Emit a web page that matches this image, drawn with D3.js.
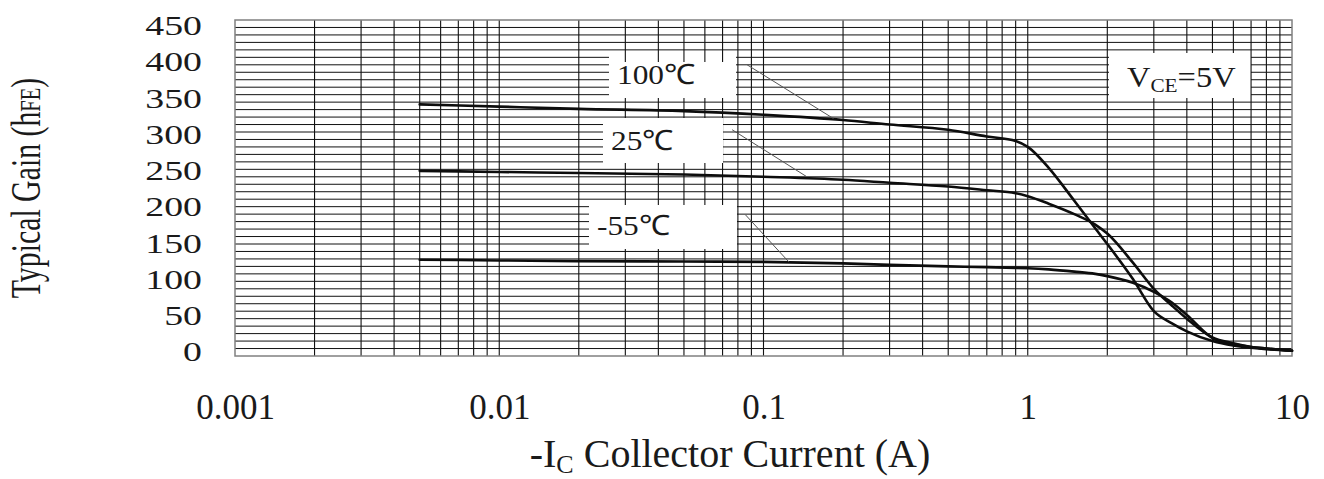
<!DOCTYPE html>
<html><head><meta charset="utf-8">
<script src="https://cdn.jsdelivr.net/npm/d3@7"></script>
<style>
html,body{margin:0;padding:0;background:#fff;}
svg{display:block;}
text{font-family:"Liberation Serif","Times New Roman",serif;fill:#1a1a1a;}
</style></head>
<body>
<svg id="chart" width="1324" height="479"></svg>
<script>
// ---- data ----
const currents = [0.005, 0.01, 0.02, 0.05, 0.1, 0.2, 0.3, 0.5, 0.7, 0.9, 1.0, 1.2, 1.5, 1.8, 2.0, 2.5, 3.0, 3.5, 4.0, 5.0, 6.0, 7.0, 8.0, 10];
const hfe100 = [337, 334, 331, 328, 323, 316, 310, 303, 294, 288, 280, 252, 208, 171, 150, 103, 60, 44, 33, 20, 14, 11, 9, 7];
const hfe25  = [248, 246.5, 245, 243, 240, 236, 232, 227, 222, 218, 214, 204, 190, 176, 164, 125, 90, 68, 50, 25, 17, 12, 10, 7];
const hfeM55 = [129, 128, 127, 126.5, 126, 124, 122, 120, 119, 118, 117.5, 116, 113, 110, 107, 98, 86, 72, 55, 24, 16, 12, 10, 7];
const seriesNames = ["100\u2103", "25\u2103", "-55\u2103"];
const xTicks = [0.001, 0.01, 0.1, 1, 10];
const xTickLabels = ["0.001", "0.01", "0.1", "1", "10"];
const yTicks = [0, 50, 100, 150, 200, 250, 300, 350, 400, 450];
// leader-line endpoints in data units [I, hFE] -> [I, hFE]
const leaderFrom = [[0.0867, 390], [0.0761, 303], [0.0855, 189]];
const leaderTo   = [[0.184, 318], [0.146, 240], [0.1247, 126]];

// ---- layout ----
const svg = d3.select("#chart");
const L = 235, R = 1292, T = 20, B = 356;
const x = d3.scaleLog().domain([0.001, 10]).range([L, R]);
const y = d3.scaleLinear().domain([0, 450]).range([B, T]);
const yLab = d3.scaleLinear().domain([0, 450]).range([352, 25.5]);

// label boxes: h = mask for horizontal grid, v = mask for vertical grid [x0,y0,x1,y1]
const boxes = [
  {h:[609,55,736,98],  v:[609,62,736,98]},
  {h:[603,122,723,164], v:[603,118,723,163]},
  {h:[589,205,737,248], v:[589,205,737,249]},
  {h:[1109,55,1251,97], v:[1109,53,1248,98]}
];
const labelPos = [[617,84],[611,150],[597,235]];

// horizontal grid
const hVals = d3.range(10, 450, 10);
svg.append("g").selectAll("line").data(hVals).join("line")
  .attr("x1", L).attr("x2", R).attr("y1", d => y(d)).attr("y2", d => y(d))
  .attr("stroke", "#111").attr("stroke-width", 1);
svg.append("g").selectAll("rect").data(boxes).join("rect")
  .attr("x", d => d.h[0]).attr("y", d => d.h[1])
  .attr("width", d => d.h[2]-d.h[0]).attr("height", d => d.h[3]-d.h[1]).attr("fill", "#fff");

// vertical grid
const vVals = [];
[0.001, 0.01, 0.1, 1].forEach((d, i) => {
  for (let k = 2; k <= 9; k++) vVals.push(d * k);
  if (i > 0) vVals.push(d);
});
svg.append("g").selectAll("line").data(vVals).join("line")
  .attr("x1", d => x(d)).attr("x2", d => x(d)).attr("y1", T).attr("y2", B)
  .attr("stroke", "#111").attr("stroke-width", 1.1);
svg.append("g").selectAll("rect").data(boxes).join("rect")
  .attr("x", d => d.v[0]).attr("y", d => d.v[1])
  .attr("width", d => d.v[2]-d.v[0]).attr("height", d => d.v[3]-d.v[1]).attr("fill", "#fff");

// frame
svg.append("rect").attr("x", L).attr("y", T).attr("width", R-L).attr("height", B-T)
  .attr("fill", "none").attr("stroke", "#808080").attr("stroke-width", 1.5);

// curves
const line = d3.line().x(d => x(d[0])).y(d => y(d[1])).curve(d3.curveMonotoneX);
[hfe100, hfe25, hfeM55].forEach(vals => {
  svg.append("path").datum(currents.map((c, i) => [c, vals[i]]))
    .attr("d", line).attr("fill", "none").attr("stroke", "#0d0d0d")
    .attr("stroke-width", 2.6).attr("stroke-linejoin", "round").attr("stroke-linecap", "round");
});

// leader lines
svg.append("g").selectAll("line").data(leaderFrom).join("line")
  .attr("x1", d => x(d[0])).attr("y1", d => y(d[1]))
  .attr("x2", (d, i) => x(leaderTo[i][0])).attr("y2", (d, i) => y(leaderTo[i][1]))
  .attr("stroke", "#555").attr("stroke-width", 1);

// series labels
svg.append("g").selectAll("text").data(seriesNames).join("text")
  .attr("transform", (d, i) => `translate(${labelPos[i][0]},${labelPos[i][1]}) scale(1.12,1)`)
  .attr("font-size", 28).text(d => d);

// V_CE = 5V
const vce = svg.append("text").attr("transform", "translate(1127,87) scale(1.12,1)").attr("font-size", 29);
vce.append("tspan").text("V");
vce.append("tspan").attr("font-size", 19).attr("dy", 5).text("CE");
vce.append("tspan").attr("dy", -5).text("=5V");

// x axis tick labels
const xAxis = d3.axisBottom(x).tickValues(xTicks).tickFormat((d, i) => xTickLabels[i]).tickSize(0).tickPadding(0);
const gx = svg.append("g").attr("transform", `translate(0,${B})`).call(xAxis);
gx.select(".domain").remove();
gx.selectAll("text").attr("font-size", 35).attr("font-family", "Liberation Serif, serif")
  .attr("fill", "#1a1a1a").attr("dy", null).attr("y", 63);

// y axis tick labels
const sx = 1.35;
const yAxis = d3.axisLeft(yLab).tickValues(yTicks).tickSize(0).tickPadding(0);
const gy = svg.append("g").attr("transform", `translate(202,0)`).call(yAxis);
gy.select(".domain").remove();
gy.selectAll("text").attr("font-size", 28).attr("font-family", "Liberation Serif, serif")
  .attr("fill", "#222").attr("x", 0).attr("transform", `scale(${sx},1)`);

// axis titles
const xt = svg.append("text").attr("x", 730).attr("y", 467).attr("text-anchor", "middle").attr("font-size", 40);
xt.append("tspan").text("-I");
xt.append("tspan").attr("font-size", 26).attr("dy", 6).text("C");
xt.append("tspan").attr("dy", -6).text(" Collector Current (A)");

const yt = svg.append("text").attr("transform", "translate(40,188) rotate(-90) scale(0.71,1)")
  .attr("text-anchor", "middle").attr("font-size", 42);
yt.append("tspan").text("Typical Gain (h");
yt.append("tspan").attr("font-size", 29).text("FE");
yt.append("tspan").text(")");
</script>
</body></html>
